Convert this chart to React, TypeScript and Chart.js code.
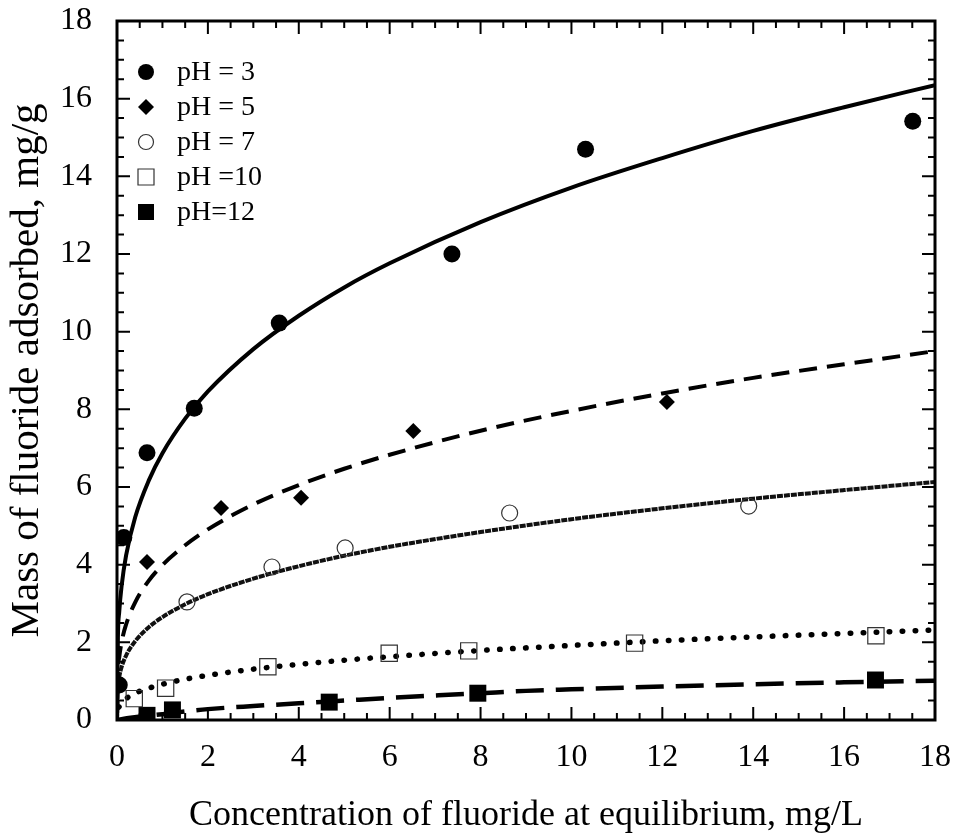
import React, { useEffect, useRef } from 'react';
import { Chart, registerables } from 'chart.js';

Chart.register(...registerables);

// ---- measured data points ----
const ph3X = [0.05, 0.15, 0.66, 1.7, 3.57, 7.37, 10.31, 17.51];
const ph3Y = [0.9, 4.7, 6.88, 8.03, 10.22, 12.0, 14.7, 15.42];

const ph5X = [0.66, 2.29, 4.05, 6.52, 12.1];
const ph5Y = [4.07, 5.46, 5.72, 7.44, 8.19];

const ph7X = [1.54, 3.41, 5.02, 8.64, 13.9];
const ph7Y = [3.04, 3.94, 4.43, 5.33, 5.51];

const ph10X = [0.38, 1.07, 3.32, 5.99, 7.74, 11.39, 16.7];
const ph10Y = [0.55, 0.82, 1.37, 1.72, 1.78, 1.98, 2.17];

const ph12X = [0.66, 1.22, 4.67, 7.94, 16.69];
const ph12Y = [0.12, 0.26, 0.46, 0.69, 1.03];

// ---- fitted curves ----
const fitX = [0, 0.02, 0.05, 0.1, 0.2, 0.4, 0.7, 1, 1.5, 2, 3, 4, 5, 6, 8, 10, 12, 14, 16, 18];
const fit3Y = [0, 2.12, 2.8, 3.44, 4.24, 5.22, 6.17, 6.87, 7.76, 8.46, 9.55, 10.41, 11.14, 11.76, 12.82, 13.71, 14.47, 15.17, 15.78, 16.35];
const fit5Y = [0, 1.23, 1.62, 2.0, 2.46, 3.03, 3.59, 3.99, 4.5, 4.91, 5.55, 6.05, 6.47, 6.83, 7.45, 7.96, 8.41, 8.81, 9.16, 9.5];
const fit7Y = [0, 0.85, 1.11, 1.36, 1.66, 2.03, 2.39, 2.65, 2.98, 3.24, 3.64, 3.96, 4.23, 4.46, 4.84, 5.17, 5.45, 5.7, 5.92, 6.13];
const fit10Y = [0, 0.26, 0.35, 0.44, 0.55, 0.69, 0.82, 0.92, 1.05, 1.15, 1.31, 1.43, 1.54, 1.63, 1.79, 1.92, 2.04, 2.14, 2.23, 2.32];
const fit12X = [0, 0.3, 0.6, 1, 1.5, 2, 3, 4, 5, 6, 7, 8, 9, 10, 12, 14, 16, 18];
const fit12Y = [0, 0.06, 0.1, 0.15, 0.22, 0.28, 0.36, 0.43, 0.5, 0.57, 0.63, 0.69, 0.75, 0.79, 0.86, 0.92, 0.97, 1.01];

const legendLabels = ['pH = 3', 'pH = 5', 'pH = 7', 'pH =10', 'pH=12'];
const legendShapes = ['fcircle', 'diamond', 'ocircle', 'osquare', 'fsquare'];

const xTitle = 'Concentration of fluoride at equilibrium, mg/L';
const yTitle = 'Mass of fluoride adsorbed, mg/g';
const axisMin = 0;
const axisMax = 18;
const majorStep = 2;
const minorStep = 0.5;

const FONT = "'Liberation Serif', 'Times New Roman', serif";

const zip = (xs: number[], ys: number[]) => xs.map((x, i) => ({ x, y: ys[i] }));

function drawShape(ctx: CanvasRenderingContext2D, shape: string, cx: number, cy: number) {
  ctx.save();
  ctx.beginPath();
  if (shape === 'fcircle') {
    ctx.arc(cx, cy, 8, 0, Math.PI * 2);
    ctx.fillStyle = '#000';
    ctx.fill();
  } else if (shape === 'diamond') {
    ctx.moveTo(cx, cy - 8);
    ctx.lineTo(cx + 8, cy);
    ctx.lineTo(cx, cy + 8);
    ctx.lineTo(cx - 8, cy);
    ctx.closePath();
    ctx.fillStyle = '#000';
    ctx.fill();
  } else if (shape === 'ocircle') {
    ctx.arc(cx, cy, 7.5, 0, Math.PI * 2);
    ctx.strokeStyle = '#333';
    ctx.lineWidth = 1.2;
    ctx.stroke();
  } else if (shape === 'osquare') {
    ctx.rect(cx - 8, cy - 8, 16, 16);
    ctx.strokeStyle = '#333';
    ctx.lineWidth = 1.2;
    ctx.stroke();
  } else {
    ctx.rect(cx - 8, cy - 8, 16, 16);
    ctx.fillStyle = '#000';
    ctx.fill();
  }
  ctx.restore();
}

const framePlugin = {
  id: 'frameTicksLegend',
  afterDatasetsDraw(chart: any) {
    const { ctx, chartArea } = chart;
    const { left, right, top, bottom } = chartArea;
    const xs = chart.scales.x;
    const ys = chart.scales.y;
    ctx.save();
    ctx.strokeStyle = '#000';
    ctx.lineWidth = 2;
    ctx.beginPath();
    for (let v = axisMin; v <= axisMax + 1e-9; v += minorStep) {
      const major = Math.abs(v / majorStep - Math.round(v / majorStep)) < 1e-6;
      const len = major ? 13 : 7;
      const px = xs.getPixelForValue(v);
      ctx.moveTo(px, bottom);
      ctx.lineTo(px, bottom - len);
      ctx.moveTo(px, top);
      ctx.lineTo(px, top + len);
      const py = ys.getPixelForValue(v);
      ctx.moveTo(left, py);
      ctx.lineTo(left + len, py);
      ctx.moveTo(right, py);
      ctx.lineTo(right - len, py);
    }
    ctx.stroke();
    ctx.lineWidth = 3;
    ctx.strokeRect(left, top, right - left, bottom - top);

    // legend
    ctx.font = `28px ${FONT}`;
    ctx.fillStyle = '#000';
    ctx.textBaseline = 'middle';
    ctx.textAlign = 'left';
    legendLabels.forEach((lab, i) => {
      const cy = top + 51 + i * 35;
      drawShape(ctx, legendShapes[i], left + 29, cy);
      ctx.fillText(lab, left + 60, cy + 1);
    });
    ctx.restore();
  },
};

export default function App() {
  const ref = useRef<HTMLCanvasElement | null>(null);

  useEffect(() => {
    if (!ref.current) return;
    const lineBase = {
      showLine: true,
      pointRadius: 0,
      borderColor: '#000',
      backgroundColor: '#000',
      cubicInterpolationMode: 'monotone' as const,
      fill: false,
    };
    const chart = new Chart(ref.current, {
      type: 'scatter',
      data: {
        datasets: [
          { ...lineBase, label: 'fit pH 3', data: zip(fitX, fit3Y), borderWidth: 4, order: 5 },
          { ...lineBase, label: 'fit pH 5', data: zip(fitX, fit5Y), borderWidth: 4, borderDash: [18, 10], order: 5 },
          { ...lineBase, label: 'fit pH 7', data: zip(fitX, fit7Y), borderWidth: 4, borderColor: '#111', borderDash: [6, 1], order: 5 },
          { ...lineBase, label: 'fit pH 10', data: zip(fitX, fit10Y), borderWidth: 5.5, borderDash: [0.5, 12.5], borderCapStyle: 'round', order: 5 },
          { ...lineBase, label: 'fit pH 12', data: zip(fit12X, fit12Y), borderWidth: 4.5, borderDash: [28, 12], order: 5 },
          { label: 'pH = 3', data: zip(ph3X, ph3Y), pointStyle: 'circle', pointRadius: 8.5, backgroundColor: '#000', borderColor: '#000', borderWidth: 0, order: 1 },
          { label: 'pH = 5', data: zip(ph5X, ph5Y), pointStyle: 'rectRot', pointRadius: 8, backgroundColor: '#000', borderColor: '#000', borderWidth: 0, order: 1 },
          { label: 'pH = 7', data: zip(ph7X, ph7Y), pointStyle: 'circle', pointRadius: 8, backgroundColor: 'rgba(0,0,0,0)', borderColor: '#333', borderWidth: 1.2, order: 1 },
          { label: 'pH =10', data: zip(ph10X, ph10Y), pointStyle: 'rect', pointRadius: 11.5, backgroundColor: 'rgba(0,0,0,0)', borderColor: '#333', borderWidth: 1.2, order: 1 },
          { label: 'pH=12', data: zip(ph12X, ph12Y), pointStyle: 'rect', pointRadius: 12, backgroundColor: '#000', borderColor: '#000', borderWidth: 0, order: 1 },
        ] as any,
      },
      options: {
        responsive: false,
        animation: false,
        devicePixelRatio: 1,
        layout: { padding: { top: 21, right: 22, left: 0, bottom: 0 } },
        plugins: { legend: { display: false }, tooltip: { enabled: false } },
        scales: {
          x: {
            type: 'linear',
            min: axisMin,
            max: axisMax,
            ticks: {
              stepSize: majorStep,
              color: '#000',
              font: { family: FONT, size: 32, lineHeight: 1 },
              padding: 14,
              maxRotation: 0,
            },
            grid: { display: false },
            border: { display: false },
            title: {
              display: true,
              text: xTitle,
              color: '#000',
              font: { family: FONT, size: 36, lineHeight: 1 },
              padding: { top: 0, bottom: 2 },
            },
            afterFit: (s: any) => {
              s.height = 116;
              s.paddingLeft = 0;
              s.paddingRight = 0;
              s.paddingTop = 0;
              s.paddingBottom = 0;
            },
          },
          y: {
            type: 'linear',
            min: axisMin,
            max: axisMax,
            ticks: {
              stepSize: majorStep,
              color: '#000',
              font: { family: FONT, size: 32, lineHeight: 1 },
              padding: 17,
            },
            grid: { display: false },
            border: { display: false },
            title: {
              display: true,
              text: yTitle,
              color: '#000',
              font: { family: FONT, size: 41, lineHeight: 1 },
              padding: { top: 7, bottom: 0 },
            },
            afterFit: (s: any) => {
              s.width = 117;
              s.paddingLeft = 0;
              s.paddingRight = 0;
              s.paddingTop = 0;
              s.paddingBottom = 0;
            },
          },
        },
      } as any,
      plugins: [framePlugin],
    });
    return () => chart.destroy();
  }, []);

  return (
    <div style={{ position: 'absolute', left: 0, top: 0, width: 957, height: 836, background: '#fff' }}>
      <canvas ref={ref} width={957} height={836} style={{ display: 'block' }} />
    </div>
  );
}
